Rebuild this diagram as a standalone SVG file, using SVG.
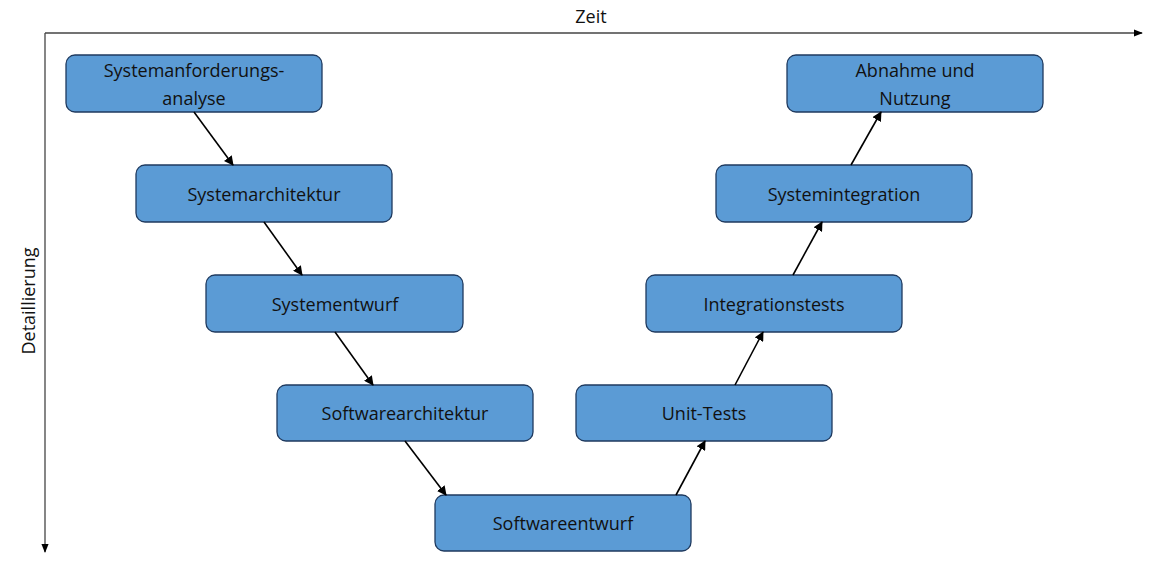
<svg xmlns="http://www.w3.org/2000/svg" width="1156" height="563" viewBox="0 0 1156 563">
<style>
.box rect{fill:#5B9BD5;stroke:#1F3A5F;stroke-width:1.3}
text{font-family:"Open Sans","Liberation Sans",sans-serif;font-size:18px;fill:#111;text-anchor:middle;dominant-baseline:central}
.c line{stroke:#000;stroke-width:1.6;marker-end:url(#a)}
</style>
<defs><marker id="a" viewBox="0 0 10 10" refX="9" refY="5" markerWidth="6" markerHeight="6" orient="auto"><path d="M0,0L10,5L0,10z" fill="#000"/></marker>
<marker id="b" viewBox="0 0 10 10" refX="9" refY="5" markerWidth="7" markerHeight="7" orient="auto"><path d="M0,1L10,5L0,9z" fill="#000"/></marker></defs>
<rect width="1156" height="563" fill="#fff"/>
<g id="axes"><line x1="45" y1="33" x2="1142" y2="33" stroke="#444" stroke-width="1.3" marker-end="url(#b)"/><line x1="45" y1="33" x2="45" y2="552" stroke="#444" stroke-width="1.3" marker-end="url(#b)"/>
<text x="591" y="16">Zeit</text><text transform="translate(28,301) rotate(-90)">Detaillierung</text></g>
<g id="n1" class="box"><rect x="66" y="55" width="256" height="57" rx="9"/><text x="194" y="70">Systemanforderungs-</text><text x="194" y="98">analyse</text></g>
<g id="n2" class="box"><rect x="136" y="165" width="256" height="57" rx="9"/><text x="264" y="194">Systemarchitektur</text></g>
<g id="n3" class="box"><rect x="206" y="275" width="257" height="57" rx="9"/><text x="335" y="304">Systementwurf</text></g>
<g id="n4" class="box"><rect x="277" y="385" width="256" height="56" rx="9"/><text x="405" y="413">Softwarearchitektur</text></g>
<g id="n5" class="box"><rect x="435" y="495" width="256" height="56" rx="9"/><text x="563" y="523">Softwareentwurf</text></g>
<g id="n6" class="box"><rect x="576" y="385" width="256" height="56" rx="9"/><text x="704" y="413">Unit-Tests</text></g>
<g id="n7" class="box"><rect x="646" y="275" width="256" height="57" rx="9"/><text x="774" y="304">Integrationstests</text></g>
<g id="n8" class="box"><rect x="716" y="165" width="256" height="57" rx="9"/><text x="844" y="194">Systemintegration</text></g>
<g id="n9" class="box"><rect x="787" y="55" width="256" height="57" rx="9"/><text x="915" y="70">Abnahme und</text><text x="915" y="98">Nutzung</text></g>
<g id="connectors" class="c">
<line x1="194" y1="112" x2="233" y2="165"/><line x1="264" y1="222" x2="302" y2="275"/><line x1="335" y1="332" x2="373" y2="385"/><line x1="405" y1="441" x2="446" y2="495"/>
<line x1="676" y1="495" x2="705" y2="441"/><line x1="735" y1="385" x2="763" y2="332"/><line x1="793" y1="275" x2="822" y2="222"/><line x1="851" y1="165" x2="881" y2="112"/>
</g>
</svg>
